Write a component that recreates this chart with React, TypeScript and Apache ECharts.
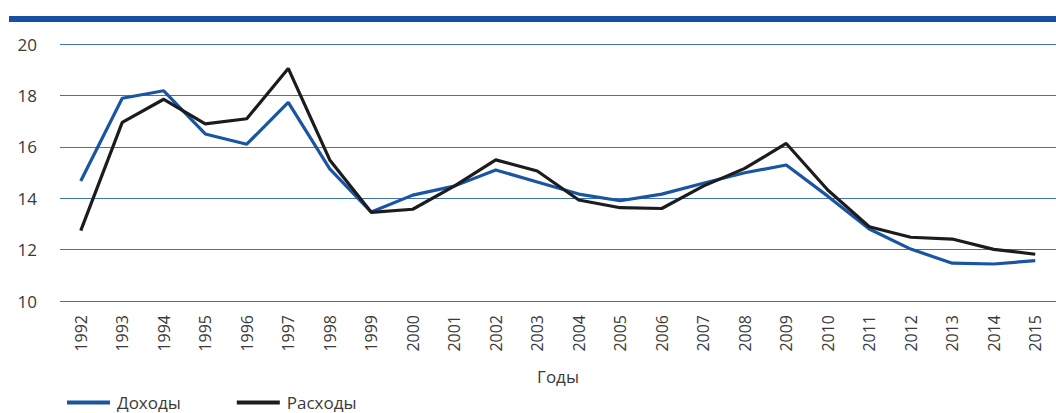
import React, { useEffect, useRef } from "react";
import * as echarts from "echarts";

const years = [
  "1992", "1993", "1994", "1995", "1996", "1997", "1998", "1999", "2000", "2001", "2002", "2003",
  "2004", "2005", "2006", "2007", "2008", "2009", "2010", "2011", "2012", "2013", "2014", "2015",
];
const income = [
  14.67, 17.89, 18.18, 16.5, 16.1, 17.73, 15.14, 13.46, 14.12, 14.47, 15.1, 14.63,
  14.16, 13.9, 14.16, 14.58, 14.99, 15.29, 14.08, 12.8, 12.02, 11.47, 11.44, 11.57,
];
const expenses = [
  12.74, 16.95, 17.85, 16.89, 17.09, 19.05, 15.49, 13.45, 13.57, 14.47, 15.49, 15.06,
  13.93, 13.63, 13.6, 14.47, 15.16, 16.13, 14.32, 12.89, 12.48, 12.41, 12.01, 11.82,
];
const seriesNames = ["Доходы", "Расходы"];
const axisTitle = "Годы";

const FONT = "'Open Sans', 'Noto Sans', sans-serif";
const BLUE = "#1a55a3";
const BLACK = "#1c1c1c";
const TEXT = "#3a3a3a";

export default function App() {
  const ref = useRef<HTMLDivElement>(null);
  useEffect(() => {
    if (!ref.current) return;
    const chart = echarts.init(ref.current, null, { renderer: "svg" });
    chart.setOption({
      animation: false,
      textStyle: { fontFamily: FONT },
      grid: { left: 60, right: -6, top: 44, bottom: 112, containLabel: false },
      graphic: [
        {
          type: "rect",
          shape: { x: 9, y: 16, width: 1047, height: 6 },
          style: { fill: "#1650a0" },
        },
      ],
      legend: {
        left: 67,
        top: 394,
        padding: 0,
        icon: "rect",
        itemWidth: 43,
        itemHeight: 4,
        itemGap: 56,
        textStyle: { fontFamily: FONT, fontSize: 17, color: TEXT, padding: [0, 0, 0, 2] },
        data: seriesNames,
      },
      xAxis: {
        type: "category",
        data: years,
        boundaryGap: true,
        axisLine: { show: false },
        axisTick: { show: false },
        axisLabel: { rotate: 90, margin: 14, fontSize: 16, color: TEXT, fontFamily: FONT },
        name: axisTitle,
        nameLocation: "middle",
        nameGap: 67,
        nameTextStyle: { fontSize: 17, color: TEXT, fontFamily: FONT },
      },
      yAxis: {
        type: "value",
        min: 10,
        max: 20,
        interval: 2,
        axisLine: { show: false },
        axisTick: { show: false },
        axisLabel: { margin: 23, fontSize: 17, color: TEXT, fontFamily: FONT },
        splitLine: { lineStyle: { color: "#3f72b8", width: 1.2 } },
      },
      series: [
        {
          name: seriesNames[0],
          type: "line",
          data: income,
          symbol: "none",
          lineStyle: { color: BLUE, width: 3.2 },
          itemStyle: { color: BLUE },
        },
        {
          name: seriesNames[1],
          type: "line",
          data: expenses,
          symbol: "none",
          lineStyle: { color: BLACK, width: 3.2 },
          itemStyle: { color: BLACK },
        },
      ],
    });
    return () => chart.dispose();
  }, []);
  return (
    <div
      ref={ref}
      style={{ position: "absolute", left: 0, top: 0, width: 1056, height: 413 }}
    />
  );
}
